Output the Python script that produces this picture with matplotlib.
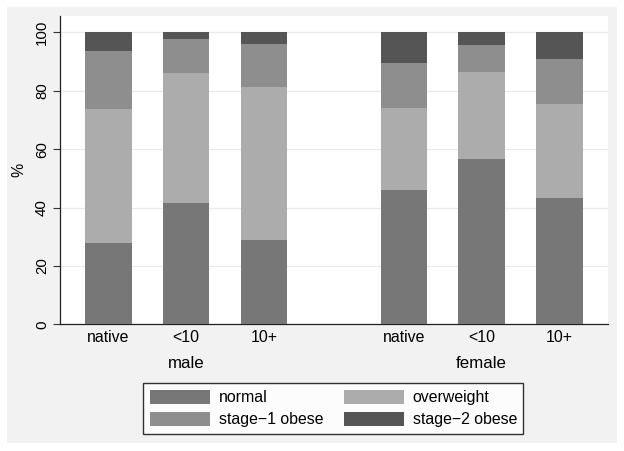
import matplotlib
matplotlib.use("Agg")
import matplotlib.pyplot as plt
import numpy as np
from matplotlib.patches import Rectangle

plt.rcParams['font.family'] = ['Liberation Sans', 'DejaVu Sans']

groups = ["male", "female"]
categories = ["native", "<10", "10+"]
series = ["normal", "overweight", "stage\u22121 obese", "stage\u22122 obese"]
# order: male native, <10, 10+, female native, <10, 10+
normal = [28.0, 41.5, 28.9, 45.9, 56.5, 43.2]
overweight = [45.8, 44.4, 52.2, 28.3, 30.0, 32.3]
stage1 = [19.9, 11.7, 15.0, 15.4, 9.2, 15.2]
stage2 = [6.3, 2.4, 3.9, 10.4, 4.3, 9.3]
colors = ["#777777", "#acacac", "#8e8e8e", "#555555"]

W, H = 624, 451
fig = plt.figure(figsize=(W / 100, H / 100), dpi=100)
fig.patch.set_facecolor("white")
bg = Rectangle((7 / W, 1 - 443 / H), (617 - 7) / W, (443 - 7) / H,
               transform=fig.transFigure, facecolor="#f2f2f2",
               edgecolor="none", zorder=-10)
fig.patches.append(bg)

ax = fig.add_axes([60 / W, 1 - 324.3 / H, (607.7 - 60) / W, (324.3 - 15.5) / H])
ax.set_zorder(1)
ax.set_facecolor("white")

x = np.array([0, 1, 2, 3.8, 4.8, 5.8])
width = 0.6
bottom = np.zeros(len(x))
vals = [normal, overweight, stage1, stage2]
handles = []
for name, v, c in zip(series, vals, colors):
    b = ax.bar(x, v, width, bottom=bottom, color=c, label=name, zorder=3,
               linewidth=0)
    handles.append(b)
    bottom += np.array(v)

ax.set_xlim(-0.622, 6.422)
ax.set_ylim(0, 100 * (324.3 - 15.5) / (324.3 - 32.3))
ax.set_yticks([0, 20, 40, 60, 80, 100])
ax.set_yticklabels(["0", "20", "40", "60", "80", "100"], rotation=90,
                   va="center", fontsize=10.8)
ax.yaxis.grid(True, color="#eaeaea", linewidth=0.9, zorder=0)
ax.set_axisbelow(True)
ax.tick_params(axis="y", length=5, width=0.8, color="#333333", pad=3)
ax.tick_params(axis="x", length=0, pad=4)
ax.set_xticks(x)
ax.set_xticklabels(categories * 2, fontsize=11.4)
ax.set_ylabel("%", fontsize=11.4, labelpad=6)

for s in ["top", "right"]:
    ax.spines[s].set_visible(False)
ax.spines["left"].set_color("#222222")
ax.spines["bottom"].set_color("#222222")
ax.spines["left"].set_linewidth(0.9)
ax.spines["bottom"].set_linewidth(0.9)

for gi, g in enumerate(groups):
    cx = x[gi * 3 + 1]
    ax.text(cx, 1 - (363 - 15.5) / (324.3 - 15.5), g, transform=ax.get_xaxis_transform(),
            ha="center", va="center", fontsize=12.2)

order = [0, 2, 1, 3]
leg = fig.legend(handles=[handles[i] for i in order], labels=[series[i] for i in order], ncol=2,
                 loc="center", bbox_to_anchor=(((145 + 521.7) / 2) / W, 1 - ((382.7 + 434.3) / 2) / H),
                 fontsize=11.4, frameon=True, fancybox=False, edgecolor="black",
                 handlelength=3.8, handleheight=1.0, handletextpad=0.55,
                 columnspacing=1.3, labelspacing=0.4, borderpad=0.4,
                 borderaxespad=0)
leg.get_frame().set_linewidth(1.0)
leg.get_frame().set_facecolor("white")

fig.savefig("out.png", dpi=100)
